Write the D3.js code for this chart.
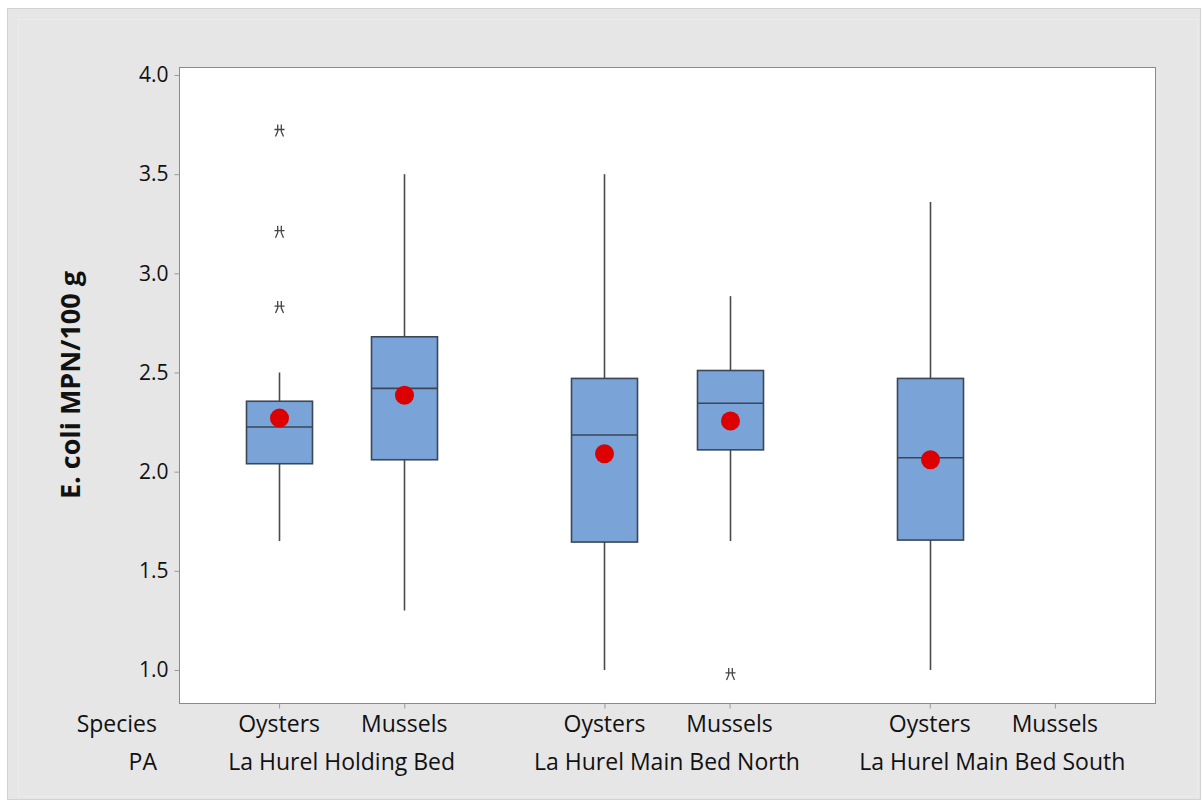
<!DOCTYPE html>
<html><head><meta charset="utf-8">
<script src="https://cdn.jsdelivr.net/npm/d3@7"></script>
<style>body{margin:0;background:#fff}svg{display:block}text{font-family:"Open Sans","Noto Sans",sans-serif;fill:#111}</style>
</head><body><svg id="c" width="1203" height="803"></svg>
<script>
const groups = ["La Hurel Holding Bed", "La Hurel Main Bed North", "La Hurel Main Bed South"];
const species = ["Oysters", "Mussels"];
const yTicks = [1.0, 1.5, 2.0, 2.5, 3.0, 3.5, 4.0];
// per box: [group, species]
const boxGroup   = [0, 0, 1, 1, 2];
const boxSpecies = [0, 1, 0, 1, 0];
const whiskerLow  = [1.65, 1.30, 1.00, 1.65, 1.00];
const q1          = [2.04, 2.06, 1.645, 2.11, 1.655];
const medians     = [2.225, 2.42, 2.185, 2.345, 2.07];
const q3          = [2.355, 2.68, 2.47, 2.51, 2.47];
const whiskerHigh = [2.50, 3.50, 3.50, 2.885, 3.36];
const means       = [2.27, 2.385, 2.09, 2.255, 2.06];
const outlierBox  = [0, 0, 0, 3];
const outlierVal  = [3.72, 3.21, 2.83, 0.98];

const svg = d3.select("#c");
const L = 179, R = 1155, T = 67, B = 703;
const groupStep = 2.6;
const x = d3.scaleLinear().domain([-0.8, groupStep*2 + 1.8]).range([L, R]);
const y = d3.scaleLinear().domain([0.8335, 4.0403]).range([B, T]);
const slot = (g, s) => g*groupStep + s;

// panel
svg.append("rect").attr("x",7.5).attr("y",8.5).attr("width",1193).attr("height",791)
  .attr("fill","#e6e6e6").attr("stroke","#d2d2d2");
svg.append("rect").attr("x",18.5).attr("y",19.5).attr("width",1179).attr("height",777)
  .attr("fill","none").attr("stroke","#ececec");
svg.append("rect").attr("x",L+0.5).attr("y",T+0.5).attr("width",R-L).attr("height",B-T)
  .attr("fill","#fff").attr("stroke","#8a8a8a");

// y axis
const ya = svg.append("g").attr("transform",`translate(${L+0.5},0)`)
  .call(d3.axisLeft(y).tickValues(yTicks).tickFormat(d3.format(".1f")).tickSize(5).tickPadding(6));
ya.select(".domain").remove();
ya.selectAll(".tick line").attr("stroke","#9a9a9a");
ya.selectAll(".tick text").attr("font-size",21).attr("fill","#111").style("font-family",'"Open Sans",sans-serif');

// x ticks
const xs = [];
groups.forEach((g,gi)=>species.forEach((s,si)=>xs.push({g:gi,s:si,name:s})));
const xa = svg.append("g").attr("transform",`translate(0,${B+0.5})`)
  .call(d3.axisBottom(x).tickValues(xs.map(d=>slot(d.g,d.s))).tickSize(5).tickFormat(""));
xa.select(".domain").remove();
xa.selectAll(".tick line").attr("stroke","#9a9a9a");

// category labels
const lab = svg.append("g").attr("font-size",23);
lab.selectAll("text.sp").data(xs).join("text").attr("class","sp")
  .attr("x",d=>x(slot(d.g,d.s))).attr("y",732).attr("text-anchor","middle").text(d=>d.name);
lab.selectAll("text.pa").data(groups).join("text").attr("class","pa")
  .attr("x",(d,i)=>x(slot(i,0.5))).attr("y",770).attr("text-anchor","middle").text(d=>d);
lab.append("text").attr("x",157).attr("y",732).attr("text-anchor","end").text("Species");
lab.append("text").attr("x",157).attr("y",770).attr("text-anchor","end").text("PA");

// y title
svg.append("text").attr("transform",`translate(69,${(T+B)/2}) rotate(-90)`)
  .attr("text-anchor","middle").attr("dominant-baseline","central")
  .attr("font-size",27).attr("font-weight","bold").text("E. coli MPN/100 g");

// boxes
const bw = 66;
const boxes = boxGroup.map((g,i)=>({cx:x(slot(g,boxSpecies[i])),i}));
const bg = svg.append("g");
const stroke = "#3b4656";
boxes.forEach(b=>{
  const i=b.i, cx=Math.round(b.cx)+0.5;
  bg.append("line").attr("x1",cx).attr("x2",cx).attr("y1",y(whiskerHigh[i])).attr("y2",y(q3[i])).attr("stroke","#4a4a4a").attr("stroke-width",1.6);
  bg.append("line").attr("x1",cx).attr("x2",cx).attr("y1",y(q1[i])).attr("y2",y(whiskerLow[i])).attr("stroke","#4a4a4a").attr("stroke-width",1.6);
  bg.append("rect").attr("x",cx-bw/2).attr("y",y(q3[i])).attr("width",bw).attr("height",y(q1[i])-y(q3[i]))
    .attr("fill","#7aa3d7").attr("stroke",stroke).attr("stroke-width",1.6);
  bg.append("line").attr("x1",cx-bw/2).attr("x2",cx+bw/2).attr("y1",y(medians[i])).attr("y2",y(medians[i])).attr("stroke",stroke).attr("stroke-width",1.6);
  bg.append("circle").attr("cx",cx).attr("cy",y(means[i])).attr("r",9.5).attr("fill","#dd0000");
});

// outliers
outlierBox.forEach((bi,k)=>{
  const cx=Math.round(boxes[bi].cx)+0.5, cy=y(outlierVal[k]);
  bg.append("path").attr("transform",`translate(${cx},${cy})`)
    .attr("d","M-5,-1 H5 M-1.8,-6 V1 L-4,6 M1.8,-6 V1 L4,6")
    .attr("fill","none").attr("stroke","#444").attr("stroke-width",1.3);
});
</script></body></html>
